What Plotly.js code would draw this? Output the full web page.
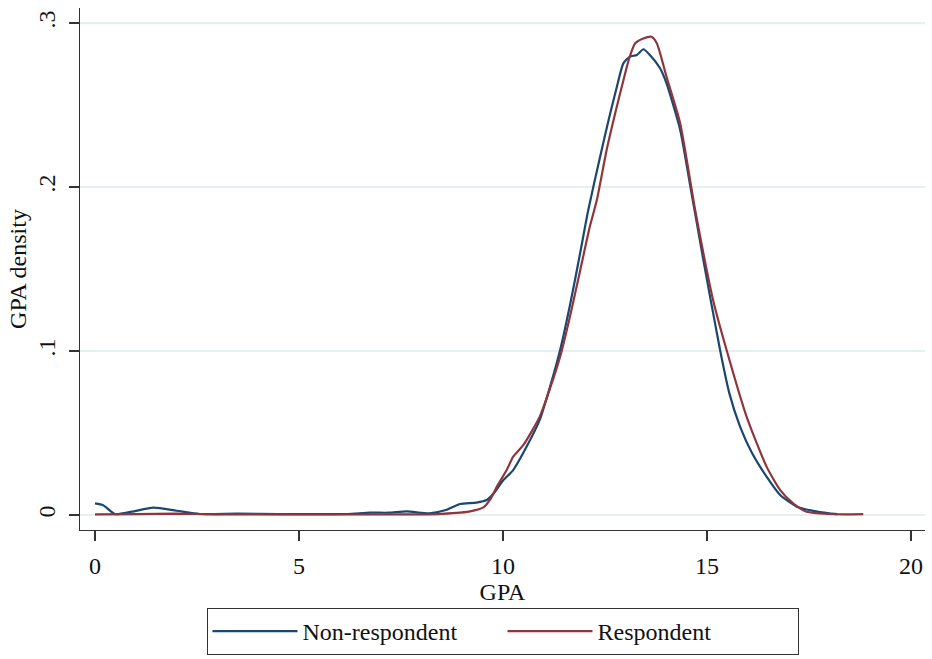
<!DOCTYPE html>
<html>
<head>
<meta charset="utf-8">
<script src="https://cdn.plot.ly/plotly-3.0.1.min.js"></script>
<style>html,body{margin:0;padding:0;background:#fff;}#chart{width:932px;height:659px;}</style>
</head>
<body>
<div id="chart"></div>
<script>
// Non-respondent density curve
const nonRespX = [0, 0.2, 0.49, 0.9, 1.43, 2.0, 2.57, 3.5, 4.5, 5.5, 6.2, 6.74, 7.2, 7.64, 8.2, 8.6, 8.95, 9.35, 9.6, 9.8, 10.0, 10.25, 10.58, 10.9, 11.15, 11.4, 11.65, 11.89, 12.09, 12.38, 12.6, 12.79, 12.95, 13.11, 13.28, 13.44, 13.6, 13.85, 14.01, 14.34, 14.58, 14.9, 15.32, 15.55, 15.81, 16.1, 16.46, 16.8, 17.2, 17.6, 18.0, 18.2];
const nonRespY = [0.0071, 0.0060, 0.0006, 0.0020, 0.0045, 0.0026, 0.0006, 0.0008, 0.0005, 0.0005, 0.0006, 0.0014, 0.0014, 0.0022, 0.0010, 0.0030, 0.0067, 0.0075, 0.0091, 0.0140, 0.0210, 0.0274, 0.0417, 0.0580, 0.0780, 0.1006, 0.1290, 0.1596, 0.1860, 0.2185, 0.2420, 0.2610, 0.2754, 0.2795, 0.2805, 0.2840, 0.2805, 0.2724, 0.2630, 0.2350, 0.2020, 0.1570, 0.1006, 0.0740, 0.0539, 0.0380, 0.0234, 0.0120, 0.0051, 0.0025, 0.0010, 0.0005];

// Respondent density curve
const respX = [0, 1, 2, 3, 4, 5, 6, 7, 8, 8.5, 8.95, 9.25, 9.52, 9.7, 9.85, 10.09, 10.25, 10.5, 10.9, 11.15, 11.4, 11.65, 11.89, 12.13, 12.3, 12.54, 12.75, 12.95, 13.1, 13.24, 13.44, 13.64, 13.77, 14.01, 14.34, 14.71, 15.15, 15.48, 15.97, 16.46, 16.8, 17.11, 17.44, 18.0, 18.4, 18.83];
const respY = [0.0004, 0.0005, 0.0008, 0.0004, 0.0004, 0.0003, 0.0003, 0.0003, 0.0004, 0.0007, 0.0014, 0.0025, 0.0047, 0.0100, 0.0173, 0.0274, 0.0356, 0.0427, 0.0600, 0.0770, 0.0965, 0.1220, 0.1490, 0.1760, 0.1920, 0.2226, 0.2450, 0.2650, 0.2790, 0.2876, 0.2906, 0.2916, 0.2876, 0.2670, 0.2390, 0.1860, 0.1310, 0.1006, 0.0600, 0.0295, 0.0150, 0.0071, 0.0020, 0.0006, 0.0004, 0.0005];

const xTicks = [0, 5, 10, 15, 20];
const xTickText = ['0', '5', '10', '15', '20'];
const yTicks = [0, 0.1, 0.2, 0.3];
const yTickText = ['0', '.1', '.2', '.3'];

const seriesNames = ['Non-respondent', 'Respondent'];
const seriesColors = ['#1a476f', '#90353b'];

const FONT = 'Liberation Serif, Times New Roman, serif';

const traces = [
  {x: nonRespX, y: nonRespY, name: seriesNames[0], type: 'scatter', mode: 'lines',
   line: {color: seriesColors[0], width: 2.2, shape: 'spline', smoothing: 0.6}},
  {x: respX, y: respY, name: seriesNames[1], type: 'scatter', mode: 'lines',
   line: {color: seriesColors[1], width: 2.2, shape: 'spline', smoothing: 0.6}}
];

const layout = {
  width: 932, height: 659,
  margin: {l: 80, r: 7, t: 8, b: 129},
  paper_bgcolor: '#ffffff', plot_bgcolor: '#ffffff',
  font: {family: FONT, size: 24, color: '#111'},
  showlegend: true,
  xaxis: {
    range: [-0.3676, 20.343], tickvals: xTicks, ticktext: xTickText,
    ticks: 'outside', ticklen: 10, tickwidth: 1.3, tickcolor: '#333',
    showline: true, linecolor: '#333', linewidth: 1.3, showgrid: false, zeroline: false,
    ticklabelstandoff: 4, automargin: false,
    title: {text: 'GPA', font: {family: FONT, size: 24}, standoff: 3}
  },
  yaxis: {
    range: [-0.00915, 0.30915], tickvals: yTicks, ticktext: yTickText,
    ticks: 'outside', ticklen: 10, tickwidth: 1.3, tickcolor: '#333', tickangle: -90,
    showline: true, linecolor: '#333', linewidth: 1.3, showgrid: true, gridcolor: '#e6eff1', gridwidth: 1.5,
    zeroline: false, ticklabelstandoff: 4, automargin: false,
    title: {text: 'GPA density', font: {family: FONT, size: 24}, standoff: 0}
  },
  legend: {
    orientation: 'h', xref: 'paper', x: 0.5, xanchor: 'center',
    yref: 'container', y: 51 / 659, yanchor: 'top',
    bordercolor: '#333', borderwidth: 1, bgcolor: '#fff',
    font: {family: FONT, size: 24, color: '#111'}, itemwidth: 85,
    entrywidth: 195, entrywidthmode: 'pixels', tracegroupgap: 0
  }
};

Plotly.newPlot('chart', traces, layout, {displayModeBar: false, staticPlot: true});
</script>
</body>
</html>
